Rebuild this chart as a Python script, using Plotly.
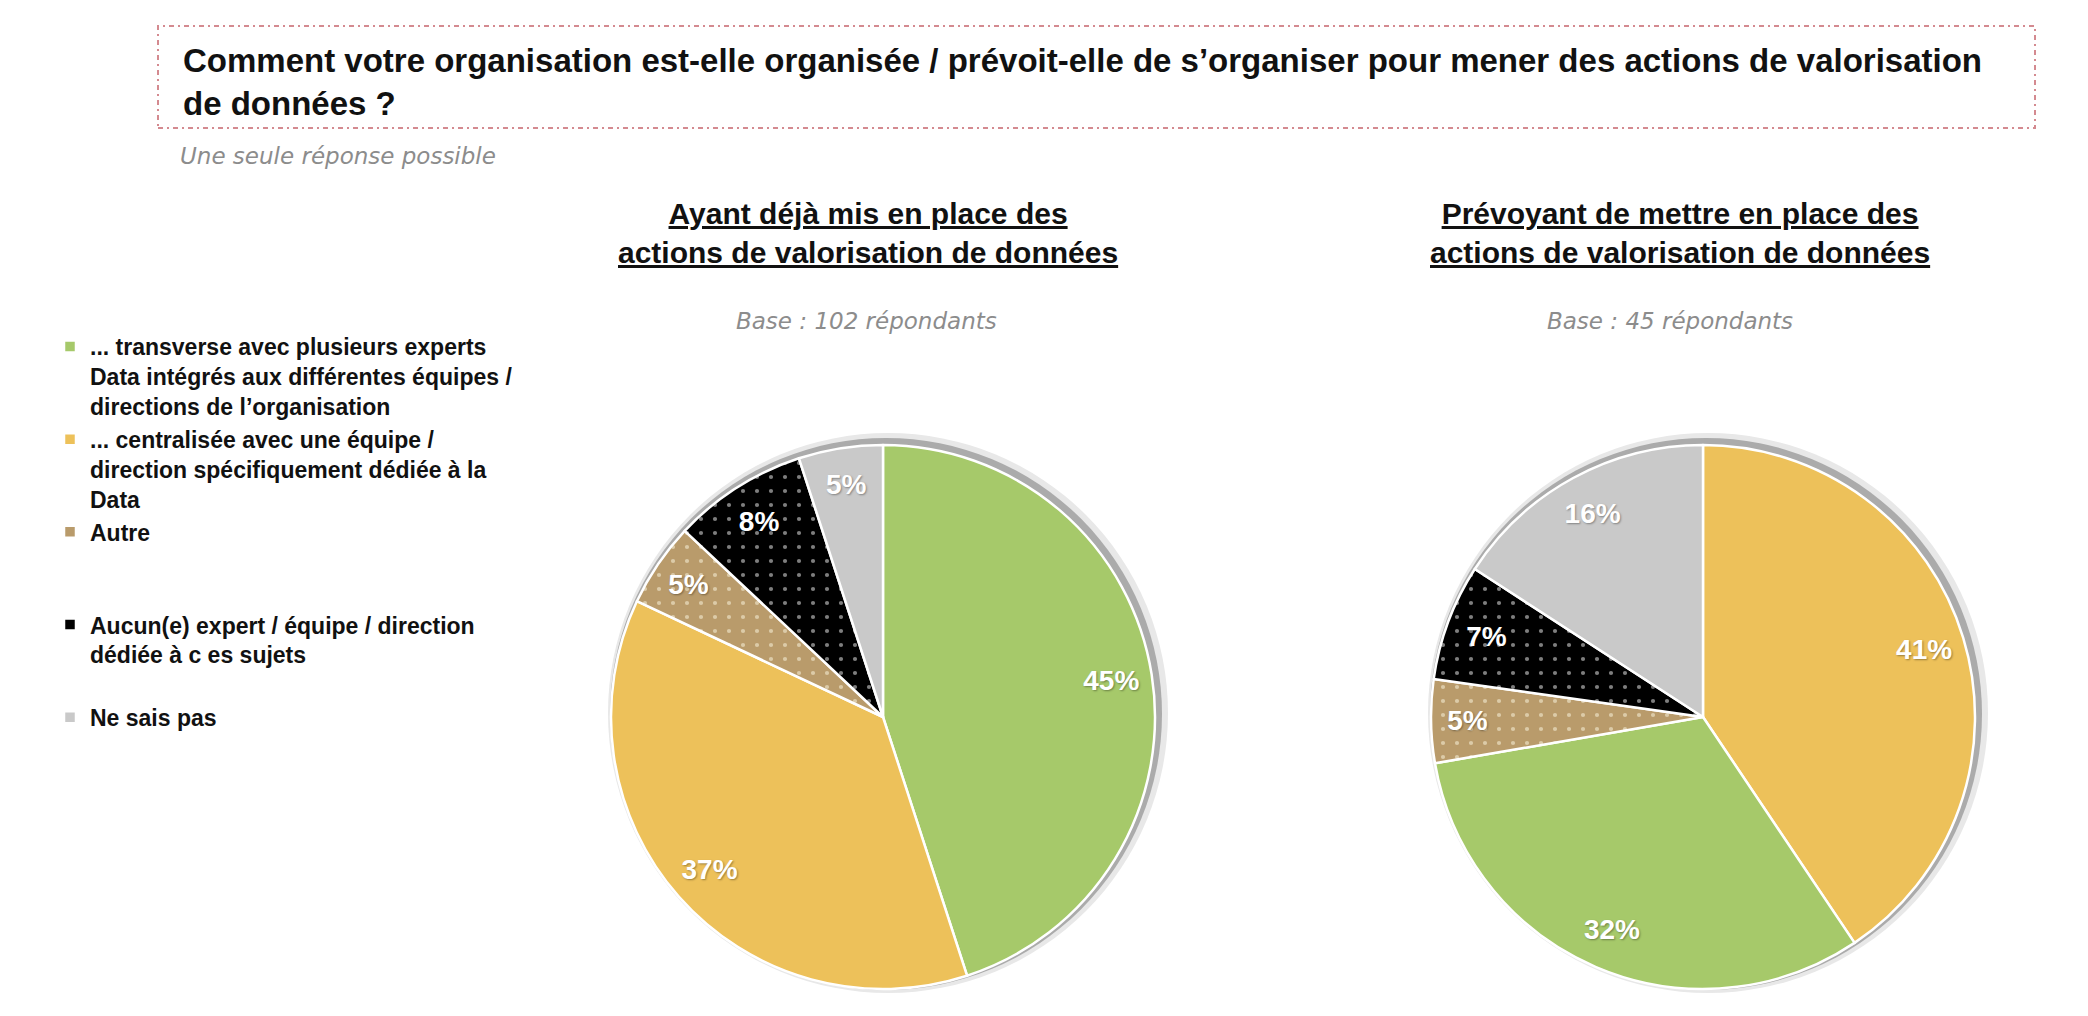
import plotly.graph_objects as go

# ---------------- data ----------------
CATEGORIES = [
    "... transverse avec plusieurs experts<br>Data intégrés aux différentes équipes /<br>directions de l’organisation",
    "... centralisée avec une équipe /<br>direction spécifiquement dédiée à la<br>Data",
    "Autre<br> <br> ",
    "Aucun(e) expert / équipe / direction<br>dédiée à c es sujets<br> ",
    "Ne sais pas",
]
COLORS = ["#A6C96A", "#EDC15A", "#B99B6B", "#000000", "#C9C9C9"]
PATTERN_SHAPES = ["", "", ".", ".", ""]
PATTERN_FG = ["#A6C96A", "#EDC15A", "#DCCBA8", "#7E7E7E", "#C9C9C9"]

ALREADY_VALUES = [45, 37, 5, 8, 5]          # in CATEGORIES order
PLANNED_VALUES = [32, 41, 5, 7, 16]         # in CATEGORIES order
PLANNED_SLICE_ORDER = [1, 0, 2, 3, 4]       # yellow slice drawn first

TITLE = ("Comment votre organisation est-elle organisée / prévoit-elle de s’organiser "
         "pour mener des actions de valorisation<br>de données ?")
SUBTITLE = "Une seule réponse possible"
HEADINGS = ["Ayant déjà mis en place des<br>actions de valorisation de données",
            "Prévoyant de mettre en place des<br>actions de valorisation de données"]
BASES = ["Base : 102 répondants", "Base : 45 répondants"]

# ---------------- geometry helpers ----------------
OFF = 8
W, H = 2088 - 2 * OFF, 1016 - 2 * OFF


def px(x):
    return (x - OFF) / W


def py(y):
    return 1 - (y - OFF) / H


PIE_R = 272
PIE_CENTERS = [(883, 717), (1703, 717)]
HEAD_X = [868, 1680]
BASE_X = [866, 1670]

fig = go.Figure()

series = [
    (list(range(5)), ALREADY_VALUES),
    (PLANNED_SLICE_ORDER, PLANNED_VALUES),
]

for k, ((cx, cy), (order, vals)) in enumerate(zip(PIE_CENTERS, series)):
    dom = dict(x=[px(cx - PIE_R), px(cx + PIE_R)], y=[py(cy + PIE_R), py(cy - PIE_R)])
    labels = [CATEGORIES[i] for i in order]
    values = [vals[i] for i in order]
    colors = [COLORS[i] for i in order]
    fig.add_trace(go.Pie(
        labels=labels, values=values, domain=dom, sort=False,
        direction="clockwise", rotation=0,
        marker=dict(colors=colors, line=dict(color="white", width=2.5),
                    pattern=dict(shape=[PATTERN_SHAPES[i] for i in order],
                                 fgcolor=[PATTERN_FG[i] for i in order],
                                 bgcolor=colors,
                                 size=14, solidity=0.07)),
        textinfo="none", hoverinfo="label+percent", showlegend=(k == 0),
    ))
    # label layer in the outer ring
    fig.add_trace(go.Pie(
        labels=labels, values=values, domain=dom, sort=False,
        direction="clockwise", rotation=0, hole=0.70,
        marker=dict(colors=["rgba(0,0,0,0)"] * 5, line=dict(width=0)),
        text=[f"{v}%" for v in values], textinfo="text",
        textposition="inside", insidetextorientation="horizontal",
        textfont=dict(family="Liberation Sans", size=28, color="white", weight="bold",
                      shadow="1px 1px 2px rgba(0,0,0,0.35)"),
        hoverinfo="skip", showlegend=False,
    ))

shapes = []
for (cx, cy) in PIE_CENTERS:
    for extra, dx, dy, col in [(8, 5, 4, "#E8E8E8"), (4, 3, 3, "#ABABAB")]:
        shapes.append(dict(
            type="circle", xref="paper", yref="paper",
            xsizemode="pixel", ysizemode="pixel",
            xanchor=px(cx), yanchor=py(cy),
            x0=-PIE_R - extra + dx, x1=PIE_R + extra + dx,
            y0=-PIE_R - extra + dy, y1=PIE_R + extra + dy,
            fillcolor=col, line=dict(width=0), layer="below",
        ))
# dotted title frame
shapes.append(dict(type="rect", xref="paper", yref="paper",
                   x0=px(158), x1=px(2035), y0=py(128), y1=py(26),
                   line=dict(color="#D48A90", width=2, dash="5px,4px,2px,4px"),
                   layer="below"))

annotations = [
    dict(text=TITLE, x=px(181), y=py(40), xanchor="left", yanchor="top",
         align="left", showarrow=False,
         font=dict(family="Liberation Sans", size=33, color="#111111", weight="bold")),
    dict(text=SUBTITLE, x=px(178), y=py(156), xanchor="left", yanchor="middle",
         showarrow=False,
         font=dict(family="DejaVu Sans", size=23, color="#8C8C8C", style="italic")),
]
for hx, bx, htxt, btxt in zip(HEAD_X, BASE_X, HEADINGS, BASES):
    annotations.append(dict(text=htxt, x=px(hx), y=py(233), xanchor="center", yanchor="middle",
                            align="center", showarrow=False,
                            font=dict(family="Liberation Sans", size=30, color="#111111",
                                      weight="bold", lineposition="under")))
    annotations.append(dict(text=btxt, x=px(bx), y=py(321), xanchor="center", yanchor="middle",
                            showarrow=False,
                            font=dict(family="DejaVu Sans", size=23, color="#8C8C8C", style="italic")))

fig.update_layout(
    width=W, height=H, margin=dict(l=0, r=0, t=0, b=0),
    paper_bgcolor="white", plot_bgcolor="white",
    shapes=shapes, annotations=annotations,
    legend=dict(x=px(50), y=py(325), xanchor="left", yanchor="top",
                valign="top", traceorder="normal", itemwidth=30,
                bgcolor="rgba(0,0,0,0)",
                font=dict(family="Liberation Sans", size=23, color="#111111", weight="bold")),
)

fig.write_html("out.html")
